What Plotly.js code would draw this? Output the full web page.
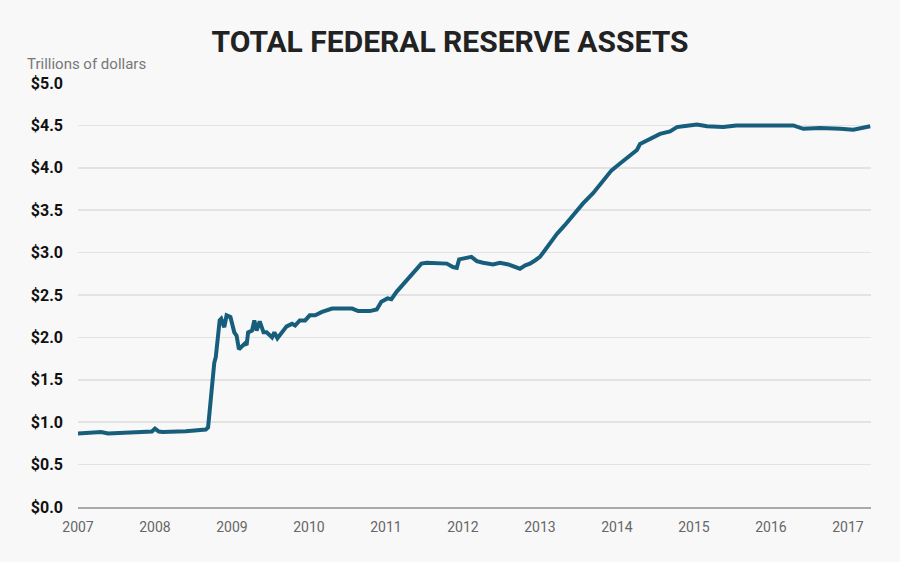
<!DOCTYPE html>
<html>
<head>
<meta charset="utf-8">
<script src="https://cdn.plot.ly/plotly-3.0.1.min.js"></script>
<style>
  html, body { margin: 0; padding: 0; background: #f8f8f8; }
  #chart { width: 900px; height: 562px; }
</style>
</head>
<body>
<div id="chart"></div>
<script>
// Decimal years
var years = [
  2007.00, 2007.10, 2007.20, 2007.30, 2007.39, 2007.50, 2007.62, 2007.75, 2007.88, 2007.96,
  2008.00, 2008.05, 2008.10, 2008.20, 2008.30, 2008.40, 2008.50, 2008.60, 2008.66, 2008.69,
  2008.72, 2008.74, 2008.77, 2008.79, 2008.82, 2008.84, 2008.86, 2008.90, 2008.93, 2008.98,
  2009.03, 2009.06, 2009.09, 2009.13, 2009.17, 2009.19, 2009.21, 2009.26, 2009.29, 2009.32,
  2009.36, 2009.41, 2009.45, 2009.52, 2009.55, 2009.59, 2009.65, 2009.71, 2009.78, 2009.82,
  2009.88, 2009.95, 2010.01, 2010.08, 2010.17, 2010.30, 2010.43, 2010.56, 2010.64, 2010.79,
  2010.88, 2010.94, 2011.02, 2011.07, 2011.14, 2011.27, 2011.38, 2011.46, 2011.53, 2011.70,
  2011.79, 2011.87, 2011.92, 2011.95, 2012.03, 2012.11, 2012.18, 2012.26, 2012.39, 2012.48,
  2012.59, 2012.68, 2012.74, 2012.81, 2012.87, 2012.94, 2013.00, 2013.05, 2013.11, 2013.17,
  2013.22, 2013.32, 2013.43, 2013.56, 2013.69, 2013.80, 2013.93, 2014.04, 2014.17, 2014.26,
  2014.30, 2014.43, 2014.56, 2014.69, 2014.78, 2014.86, 2015.04, 2015.17, 2015.38, 2015.55,
  2015.77, 2016.03, 2016.29, 2016.42, 2016.64, 2016.90, 2017.07, 2017.29
];
// Total assets, trillions of dollars
var assets = [
  0.866, 0.870, 0.875, 0.885, 0.868, 0.872, 0.870, 0.872, 0.877, 0.890,
  0.925, 0.890, 0.885, 0.883, 0.890, 0.893, 0.900, 0.905, 0.913, 0.940,
  1.25, 1.49, 1.70, 1.77, 2.00, 2.20, 2.22, 2.12, 2.26, 2.24,
  2.06, 2.02, 1.86, 1.89, 1.93, 1.91, 2.06, 2.08, 2.20, 2.08,
  2.19, 2.06, 2.06, 2.00, 2.06, 1.99, 2.06, 2.13, 2.16, 2.14,
  2.20, 2.20, 2.26, 2.26, 2.30, 2.34, 2.34, 2.34, 2.31, 2.31,
  2.33, 2.42, 2.46, 2.45, 2.54, 2.67, 2.79, 2.87, 2.88, 2.87,
  2.87, 2.83, 2.82, 2.92, 2.93, 2.95, 2.90, 2.88, 2.86, 2.88,
  2.86, 2.83, 2.81, 2.85, 2.87, 2.91, 2.95, 3.01, 3.09, 3.15,
  3.22, 3.32, 3.44, 3.58, 3.70, 3.83, 3.97, 4.05, 4.15, 4.21,
  4.28, 4.34, 4.40, 4.43, 4.48, 4.49, 4.51, 4.49, 4.48, 4.50,
  4.50, 4.49, 4.50, 4.46, 4.47, 4.46, 4.45, 4.49
];
var yTickVals = [0, 0.5, 1.0, 1.5, 2.0, 2.5, 3.0, 3.5, 4.0, 4.5, 5.0];
var yTickText = ["$0.0", "$0.5", "$1.0", "$1.5", "$2.0", "$2.5", "$3.0", "$3.5", "$4.0", "$4.5", "$5.0"];
var xTickVals = [2007, 2008, 2009, 2010, 2011, 2012, 2013, 2014, 2015, 2016, 2017];
var xTickText = ["2007", "2008", "2009", "2010", "2011", "2012", "2013", "2014", "2015", "2016", "2017"];

var trace = {
  x: years,
  y: assets,
  type: "scatter",
  mode: "lines",
  line: { color: "#175e7c", width: 4 },
  hoverinfo: "skip"
};

var layout = {
  width: 900,
  height: 562,
  paper_bgcolor: "#f8f8f8",
  plot_bgcolor: "#f8f8f8",
  margin: { l: 78, r: 29, t: 83, b: 55, pad: 0 },
  showlegend: false,
  title: {
    text: "<b>TOTAL FEDERAL RESERVE ASSETS</b>",
    font: { family: "Roboto, sans-serif", size: 30, color: "#222" },
    x: 0.5, xanchor: "center",
    y: 0.927, yref: "container", yanchor: "middle"
  },
  xaxis: {
    range: [2007, 2017.30],
    tickmode: "array",
    tickvals: xTickVals,
    ticktext: xTickText,
    showgrid: false,
    zeroline: false,
    showline: true,
    linecolor: "#aaaaaa",
    linewidth: 2,
    ticks: "",
    ticklabelstandoff: 6,
    tickfont: { family: "Roboto, sans-serif", size: 14, color: "#666" },
    fixedrange: true
  },
  yaxis: {
    range: [0, 5],
    tickmode: "array",
    tickvals: yTickVals,
    ticktext: yTickText,
    showgrid: true,
    gridcolor: "#e3e3e3",
    gridwidth: 1.5,
    zeroline: false,
    showline: false,
    ticks: "",
    ticklabelstandoff: 14,
    tickfont: { family: "Roboto, sans-serif", size: 16, color: "#111", weight: 700 },
    fixedrange: true
  },
  annotations: [{
    text: "Trillions of dollars",
    xref: "paper", yref: "paper",
    x: -0.0668, y: 1.044,
    xanchor: "left", yanchor: "middle",
    showarrow: false,
    font: { family: "Roboto, sans-serif", size: 15, color: "#777" }
  }]
};

Plotly.newPlot("chart", [trace], layout, { displayModeBar: false, staticPlot: true });
</script>
</body>
</html>
